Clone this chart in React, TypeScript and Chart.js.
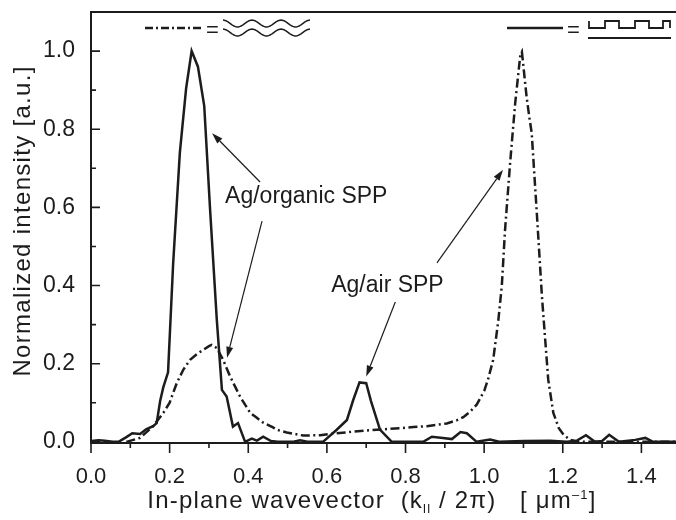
import { useEffect, useRef } from 'react';
import { Chart, registerables } from 'chart.js';
Chart.register(...registerables);

const FONT = "'Liberation Sans', Arial, Helvetica, sans-serif";
const INK = '#1c1c1c';

// Solid curve (Ag/organic SPP, square grating)
const solidX = [0.000, 0.020, 0.035, 0.055, 0.070, 0.090, 0.105, 0.125, 0.140, 0.158, 0.167, 0.176, 0.184, 0.196, 0.209, 0.226, 0.242, 0.256, 0.272, 0.288, 0.303, 0.320, 0.333, 0.345, 0.361, 0.374, 0.392, 0.409, 0.422, 0.438, 0.458, 0.475, 0.515, 0.532, 0.550, 0.590, 0.625, 0.651, 0.667, 0.683, 0.700, 0.712, 0.735, 0.765, 0.845, 0.867, 0.895, 0.918, 0.940, 0.956, 0.981, 1.015, 1.038, 1.100, 1.168, 1.210, 1.236, 1.259, 1.282, 1.300, 1.318, 1.343, 1.384, 1.410, 1.430, 1.488];
const solidY = [0.002, 0.004, 0.003, 0.000, 0.000, 0.012, 0.022, 0.020, 0.032, 0.040, 0.048, 0.105, 0.140, 0.178, 0.457, 0.740, 0.905, 1.000, 0.960, 0.860, 0.593, 0.312, 0.133, 0.116, 0.039, 0.048, 0.000, 0.008, 0.003, 0.013, 0.002, 0.000, 0.000, 0.004, 0.000, 0.000, 0.031, 0.056, 0.107, 0.152, 0.150, 0.105, 0.031, 0.000, 0.000, 0.013, 0.010, 0.007, 0.025, 0.022, 0.000, 0.006, 0.000, 0.002, 0.003, 0.000, 0.003, 0.017, 0.000, 0.002, 0.018, 0.000, 0.005, 0.010, 0.000, 0.000];

// Dash-dot curve (Ag/air SPP, sinusoidal grating)
const dashX = [0.090, 0.125, 0.158, 0.184, 0.200, 0.218, 0.235, 0.252, 0.270, 0.285, 0.300, 0.307, 0.320, 0.336, 0.354, 0.379, 0.405, 0.421, 0.438, 0.463, 0.472, 0.498, 0.540, 0.583, 0.616, 0.667, 0.727, 0.786, 0.820, 0.854, 0.905, 0.930, 0.947, 0.965, 0.981, 1.000, 1.010, 1.023, 1.036, 1.045, 1.053, 1.066, 1.079, 1.092, 1.096, 1.108, 1.115, 1.121, 1.134, 1.147, 1.163, 1.176, 1.190, 1.202, 1.219, 1.240, 1.488];
const dashY = [0.000, 0.010, 0.040, 0.074, 0.100, 0.150, 0.185, 0.210, 0.225, 0.235, 0.245, 0.248, 0.240, 0.210, 0.167, 0.116, 0.074, 0.062, 0.049, 0.037, 0.031, 0.024, 0.016, 0.017, 0.021, 0.026, 0.031, 0.035, 0.038, 0.040, 0.047, 0.055, 0.063, 0.078, 0.095, 0.130, 0.160, 0.210, 0.310, 0.400, 0.540, 0.713, 0.867, 0.990, 0.998, 0.883, 0.830, 0.790, 0.585, 0.372, 0.159, 0.074, 0.035, 0.018, 0.005, 0.000, 0.000];

const xTicks = [0, 0.2, 0.4, 0.6, 0.8, 1.0, 1.2, 1.4];
const xMinorTicks = [0.1, 0.3, 0.5, 0.7, 0.9, 1.1, 1.3];
const yTicks = [0, 0.2, 0.4, 0.6, 0.8, 1.0];
const yMinorTicks = [0.1, 0.3, 0.5, 0.7, 0.9];

const yTitle = 'Normalized intensity [a.u.]';
const xTitleMain = 'In-plane wavevector  (k';
const xTitleSub = 'll';
const xTitleMid = ' / 2π)   [ μm';
const xTitleSup = '–1';
const xTitleEnd = ']';

const labelTexts = ['Ag/organic SPP', 'Ag/air SPP'];
const labelX = [0.341, 0.611];
const labelY = [0.610, 0.384];

const arrowFromX = [0.430, 0.435, 0.774, 0.880];
const arrowFromY = [0.665, 0.565, 0.358, 0.458];
const arrowToX = [0.308, 0.346, 0.700, 1.048];
const arrowToY = [0.790, 0.215, 0.167, 0.696];

const legendEq = '=';

function arrow(ctx: CanvasRenderingContext2D, x1: number, y1: number, x2: number, y2: number) {
  const ang = Math.atan2(y2 - y1, x2 - x1);
  const L = 11, W = 3.5;
  const bx = x2 - L * Math.cos(ang), by = y2 - L * Math.sin(ang);
  ctx.beginPath();
  ctx.moveTo(x1, y1);
  ctx.lineTo(bx, by);
  ctx.lineWidth = 1.2;
  ctx.stroke();
  ctx.beginPath();
  ctx.moveTo(x2, y2);
  ctx.lineTo(bx + W * Math.sin(ang), by - W * Math.cos(ang));
  ctx.lineTo(bx - W * Math.sin(ang), by + W * Math.cos(ang));
  ctx.closePath();
  ctx.fill();
}

const decor = {
  id: 'decor',
  afterDraw(chart: any) {
    const { ctx, chartArea: a, scales } = chart;
    const x = scales.x, y = scales.y;
    ctx.save();
    ctx.strokeStyle = INK;
    ctx.fillStyle = INK;
    ctx.lineCap = 'butt';
    ctx.lineJoin = 'miter';
    // frame (left, bottom, top)
    ctx.lineWidth = 2;
    ctx.beginPath();
    ctx.moveTo(a.right, a.bottom);
    ctx.lineTo(a.left, a.bottom);
    ctx.lineTo(a.left, a.top);
    ctx.lineTo(a.right, a.top);
    ctx.stroke();
    // x ticks (outward)
    ctx.lineWidth = 1.6;
    ctx.beginPath();
    xTicks.forEach((v) => { const p = x.getPixelForValue(v); ctx.moveTo(p, a.bottom); ctx.lineTo(p, a.bottom + 10); });
    xMinorTicks.forEach((v) => { const p = x.getPixelForValue(v); ctx.moveTo(p, a.bottom); ctx.lineTo(p, a.bottom + 5); });
    // y ticks (inward)
    yTicks.forEach((v) => { const p = y.getPixelForValue(v); ctx.moveTo(a.left, p); ctx.lineTo(a.left + 9, p); });
    yMinorTicks.forEach((v) => { const p = y.getPixelForValue(v); ctx.moveTo(a.left, p); ctx.lineTo(a.left + 5, p); });
    ctx.stroke();

    // y title
    ctx.save();
    ctx.font = `24px ${FONT}`;
    (ctx as any).letterSpacing = '1.3px';
    ctx.textAlign = 'center';
    ctx.textBaseline = 'alphabetic';
    ctx.translate(30, 221);
    ctx.rotate(-Math.PI / 2);
    ctx.fillText(yTitle, 0, 0);
    ctx.restore();

    // x title with sub/superscripts
    ctx.save();
    (ctx as any).letterSpacing = '1.2px';
    const big = `24px ${FONT}`, small = `13px ${FONT}`;
    ctx.textAlign = 'left';
    ctx.textBaseline = 'alphabetic';
    const parts: [string, string, number][] = [
      [xTitleMain, big, 0], [xTitleSub, small, 5], [xTitleMid, big, 0], [xTitleSup, small, -9], [xTitleEnd, big, 0],
    ];
    let total = 0;
    parts.forEach(([t, f]) => { ctx.font = f; total += ctx.measureText(t).width; });
    let cx = 372 - total / 2;
    const base = 508;
    parts.forEach(([t, f, dy]) => { ctx.font = f; ctx.fillText(t, cx, base + dy); cx += ctx.measureText(t).width; });
    ctx.restore();

    // annotations
    ctx.textAlign = 'left';
    ctx.textBaseline = 'alphabetic';
    ctx.font = `23px ${FONT}`;
    labelTexts.forEach((t, i) => ctx.fillText(t, x.getPixelForValue(labelX[i]), y.getPixelForValue(labelY[i])));
    arrowFromX.forEach((_, i) => arrow(ctx,
      x.getPixelForValue(arrowFromX[i]), y.getPixelForValue(arrowFromY[i]),
      x.getPixelForValue(arrowToX[i]), y.getPixelForValue(arrowToY[i])));

    // legend: dash-dot = wavy (sinusoidal grating)
    ctx.lineWidth = 2.5;
    ctx.setLineDash([8, 3, 2, 3]);
    ctx.beginPath(); ctx.moveTo(145, 28); ctx.lineTo(201, 28); ctx.stroke();
    ctx.setLineDash([]);
    ctx.font = `22px ${FONT}`;
    ctx.fillText(legendEq, 206, 37);
    ctx.lineWidth = 1.5;
    [23.5, 32.5].forEach((cy) => {
      ctx.beginPath();
      for (let px = 223; px <= 310; px += 1) {
        const yy = cy - 3.4 * Math.cos((2 * Math.PI * (px - 223)) / 29);
        if (px === 223) ctx.moveTo(px, yy); else ctx.lineTo(px, yy);
      }
      ctx.stroke();
    });
    // legend: solid = square wave (binary grating)
    ctx.lineWidth = 2.5;
    ctx.beginPath(); ctx.moveTo(507, 28); ctx.lineTo(563, 28); ctx.stroke();
    ctx.fillText(legendEq, 567, 37);
    ctx.lineWidth = 1.8;
    ctx.beginPath();
    const hi = 21, lo = 28;
    const xs = [589, 605, 619, 635, 649, 663, 670];
    ctx.moveTo(589, hi);
    ctx.lineTo(589, lo);
    let low = true;
    for (let i = 1; i < xs.length; i++) {
      ctx.lineTo(xs[i], low ? lo : hi);
      if (i < xs.length - 1) { low = !low; ctx.lineTo(xs[i], low ? lo : hi); }
    }
    ctx.lineTo(670, lo);
    ctx.stroke();
    ctx.lineWidth = 2;
    ctx.beginPath(); ctx.moveTo(588, 38); ctx.lineTo(671, 38); ctx.stroke();
    ctx.restore();
  },
};

export default function App() {
  const ref = useRef<HTMLCanvasElement>(null);
  useEffect(() => {
    if (!ref.current) return;
    const chart = new Chart(ref.current, {
      type: 'scatter',
      data: {
        datasets: [
          {
            label: 'square grating',
            data: solidX.map((v, i) => ({ x: v, y: solidY[i] })),
            showLine: true,
            borderColor: INK,
            borderWidth: 2.5,
            pointRadius: 0,
            tension: 0,
          },
          {
            label: 'sinusoidal grating',
            data: dashX.map((v, i) => ({ x: v, y: dashY[i] })),
            showLine: true,
            borderColor: INK,
            borderWidth: 2.5,
            borderDash: [9, 3.5, 2, 3.5],
            pointRadius: 0,
            tension: 0,
          },
        ],
      },
      options: {
        animation: false,
        responsive: false,
        devicePixelRatio: 1,
        layout: { padding: { top: 12, left: 0, right: 0, bottom: 0 } },
        plugins: { legend: { display: false }, tooltip: { enabled: false } },
        scales: {
          x: {
            type: 'linear',
            min: 0,
            max: 1.488,
            grid: { display: false },
            border: { display: false },
            afterBuildTicks: (s: any) => { s.ticks = xTicks.map((v) => ({ value: v })); },
            afterFit: (s: any) => { s.height = 77; s.paddingLeft = 0; s.paddingRight = 0; s.paddingTop = 0; s.paddingBottom = 0; },
            ticks: {
              autoSkip: false,
              maxRotation: 0,
              padding: 13,
              color: INK,
              font: { family: FONT, size: 22 },
              callback: (v: any) => Number(v).toFixed(1),
            },
          },
          y: {
            type: 'linear',
            min: -0.003,
            max: 1.1,
            grid: { display: false },
            border: { display: false },
            afterBuildTicks: (s: any) => { s.ticks = yTicks.map((v) => ({ value: v })); },
            afterFit: (s: any) => { s.width = 91; s.paddingLeft = 0; s.paddingRight = 0; s.paddingTop = 0; s.paddingBottom = 0; },
            ticks: {
              autoSkip: false,
              padding: 8,
              color: INK,
              font: { family: FONT, size: 23 },
              callback: (v: any) => Number(v).toFixed(1),
            },
          },
        },
      },
      plugins: [decor],
    });
    return () => chart.destroy();
  }, []);
  return (
    <canvas
      ref={ref}
      width={676}
      height={520}
      style={{ position: 'absolute', left: 0, top: 0, width: 676, height: 520, background: '#fff' }}
    />
  );
}
